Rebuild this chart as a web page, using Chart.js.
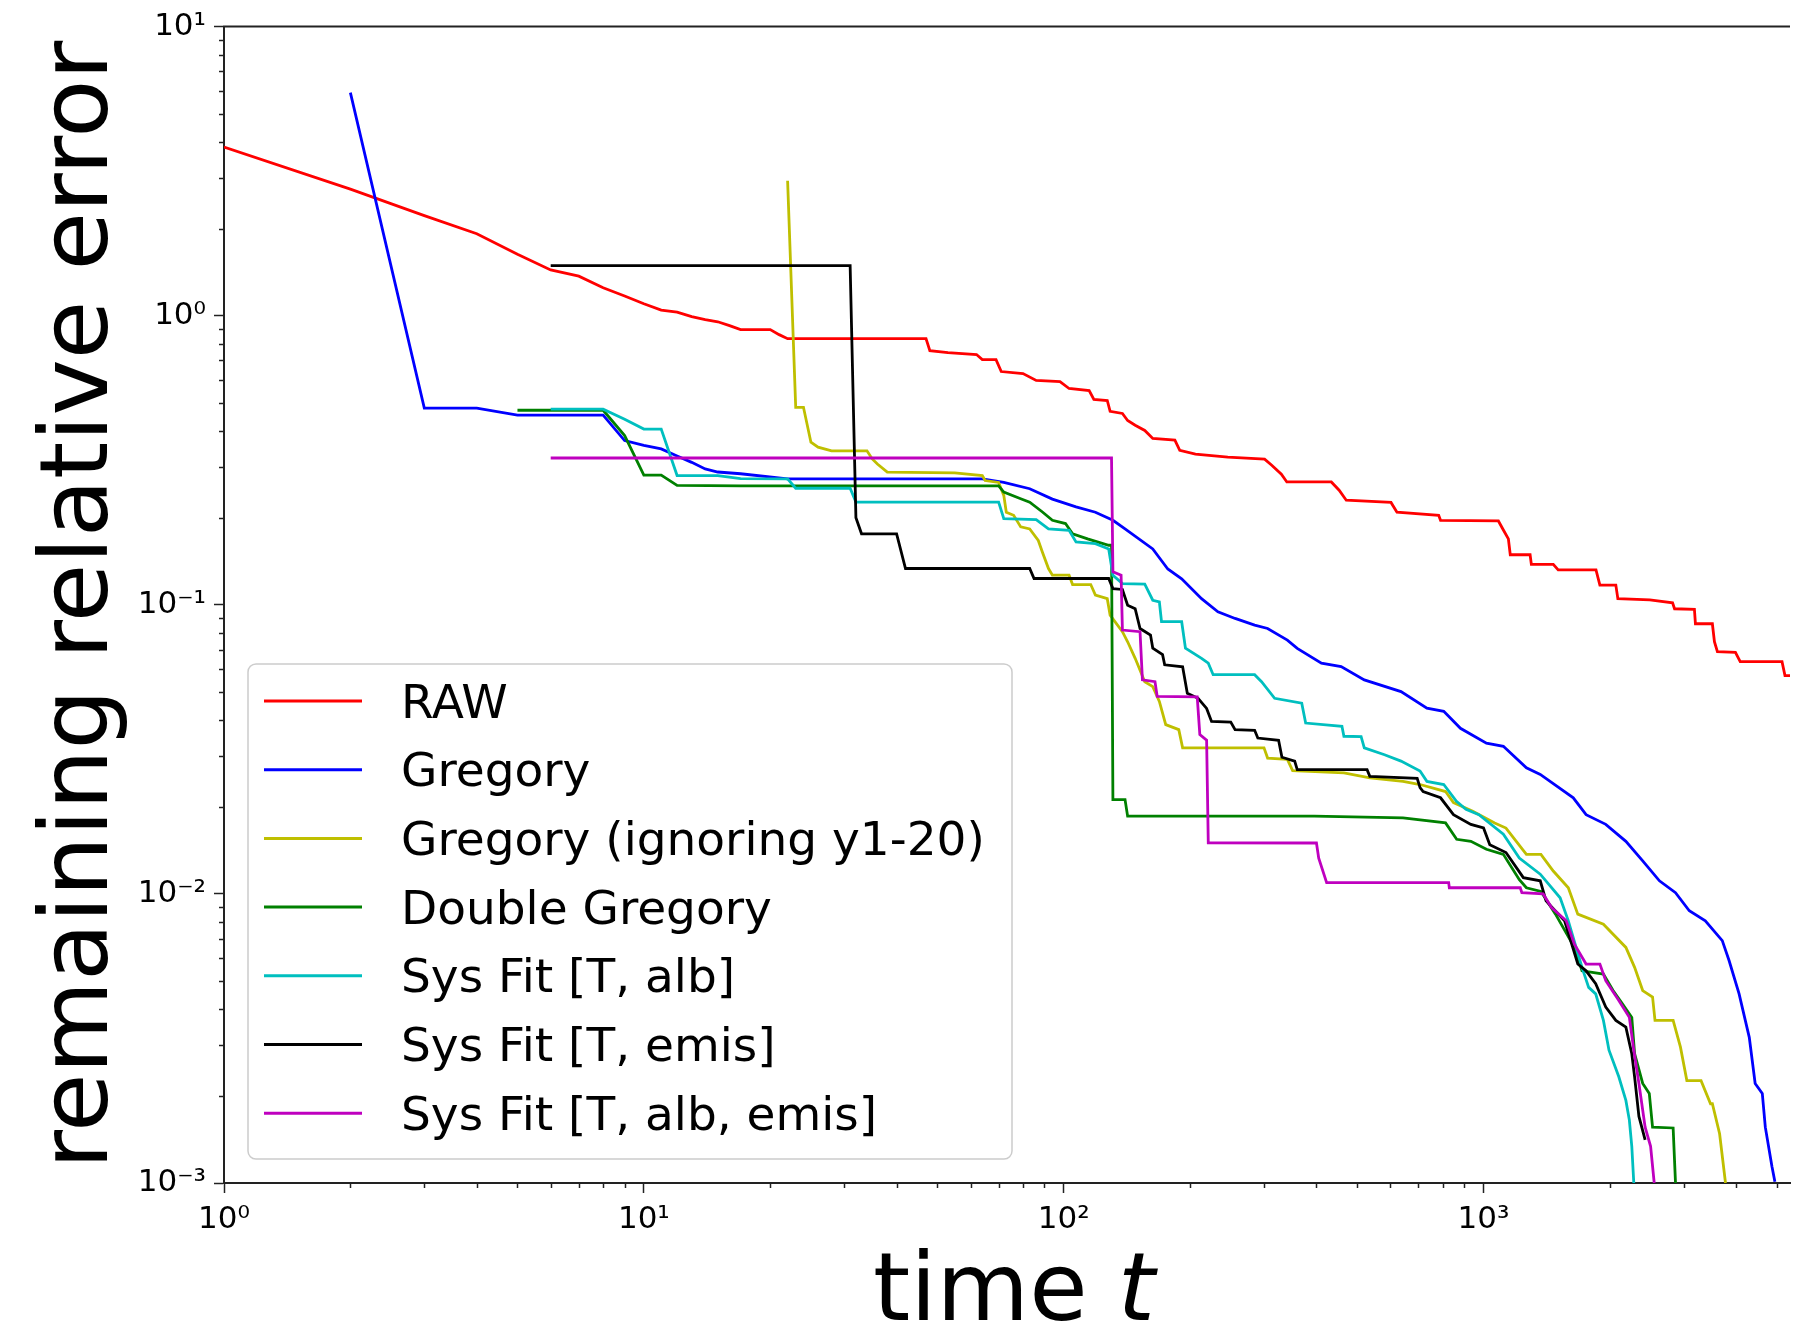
<!DOCTYPE html>
<html>
<head>
<meta charset="utf-8">
<title>remaining relative error</title>
<script src="https://cdn.jsdelivr.net/npm/chart.js@4.4.0/dist/chart.umd.min.js"></script>
<style>
  html, body { margin: 0; padding: 0; background: #fff; }
  #wrap { width: 1798px; height: 1333px; }
</style>
</head>
<body>
<div id="wrap"><canvas id="errChart" width="1798" height="1333"></canvas></div>
<script>
// values (time t, remaining relative error)
const seriesNames = ["RAW", "Gregory", "Gregory (ignoring y1-20)", "Double Gregory",
                     "Sys Fit [T, alb]", "Sys Fit [T, emis]", "Sys Fit [T, alb, emis]"];
const seriesColors = ["#ff0000", "#0000ff", "#bfbf00", "#008000", "#00bfbf", "#000000", "#bf00bf"];

const rawT = [1,2,3,4,5,6,7,8,9,10,11,12,13,14,15,16,17,20,21,22,47,48,53,62,64,69,71,80,86,98,
  103,115,118,127,129,138,142,148,156,163,184,189,206,246,301,313,330,340,434,453,
  471,602,622,782,790,1085,1115,1146,1158,1291,1300,1466,1506,1853,1893,2066,2089,2489,2820,2851,
  3179,3197,3508,3548,3606,3981,4087,5140,5224,5370];
const rawErr = [3.83,2.74,2.22,1.92,1.63,1.44,1.37,1.25,1.17,1.10,1.045,1.028,0.992,0.969,0.953,0.924,0.895,0.895,0.86,0.833,
  0.833,0.757,0.745,0.734,0.705,0.705,0.641,0.631,0.597,0.592,0.560,0.551,0.513,0.509,0.467,0.459,0.434,0.418,0.401,0.376,
  0.371,0.342,0.332,0.324,0.319,0.304,0.283,0.266,0.266,0.249,0.230,0.226,0.209,0.204,0.196,0.195,0.1815,0.169,0.149,0.149,
  0.138,0.138,0.132,0.132,0.117,0.117,0.105,0.104,0.1016,0.0969,0.0965,0.086,0.086,0.0745,0.0689,0.0685,0.0636,0.0636,0.0569,0.0569];

const gregT = [2,3,4,5,8,9,10,11,12,13,14,15,17,22,64,72,83,94,107,119,
  131,140,163,177,191,213,233,256,285,306,341,360,411,458,520,636,733,804,881,1016,
  1115,1265,1365,1636,1755,1955,2183,2394,2624,2866,3091,3375,3704,3846,4062,4295,4436,4613,4690,4864,4943];
const gregErr = [5.91,0.479,0.479,0.453,0.453,0.37,0.356,0.346,0.327,0.311,0.295,0.288,0.284,0.2726,0.2726,0.265,0.252,0.232,0.218,0.209,
  0.196,0.183,0.156,0.133,0.123,0.105,0.0946,0.0897,0.0851,0.0828,0.0755,0.0707,0.0628,0.0611,0.055,0.0501,0.0439,0.0428,0.0374,0.0332,
  0.0324,0.0273,0.0259,0.0215,0.0188,0.0174,0.0152,0.0130,0.0111,0.0101,0.00874,0.00807,0.00689,0.00587,0.00451,0.00319,0.00221,0.00204,0.00156,0.00114,0.00101];

const gregIgnT = [22,23,24,25,26,28,34,35,36,38,55,64,65,70,72,73,76,79,83,87,
  89,92,94,103,105,116,119,127,129,138,142,148,156,163,169,175,188,192,300,306,
  341,351,465,536,643,706,812,848,943,1063,1131,1265,1370,1466,1592,1677,1930,2183,2290,2394,
  2527,2561,2829,2945,3050,3297,3473,3508,3650,3770];
const gregIgnErr = [2.93,0.482,0.482,0.365,0.351,0.341,0.341,0.3195,0.307,0.2877,0.286,0.28,0.269,0.265,0.239,0.209,0.204,0.186,0.183,0.167,
  0.152,0.1335,0.1266,0.1266,0.1175,0.1175,0.108,0.105,0.0921,0.0807,0.0745,0.0653,0.0542,0.0521,0.0463,0.0385,0.037,0.032,0.032,0.0295,
  0.0292,0.0267,0.0262,0.0252,0.0245,0.0239,0.0226,0.0207,0.0193,0.0176,0.0169,0.0137,0.0137,0.0120,0.0105,0.00851,0.00785,0.00653,0.00557,0.00463,
  0.0044,0.00365,0.00365,0.00295,0.00226,0.00226,0.00188,0.00188,0.00148,0.001];

const dblT = [5,6,8,9,10,11,12,17,70,72,79,83,89,94,101,105,114,128,130,131,
  140,142,395,643,812,863,933,1016,1115,1217,1265,1370,1484,1646,1716,1930,2035,2142,2255,2290,
  2394,2482,2527,2829,2866];
const dblErr = [0.471,0.471,0.471,0.385,0.281,0.281,0.259,0.258,0.258,0.2455,0.2328,0.2265,0.2094,0.196,0.191,0.176,0.169,0.1607,0.1607,0.0212,
  0.0212,0.01857,0.01857,0.01833,0.0176,0.01545,0.0152,0.01427,0.0137,0.0112,0.0105,0.0102,0.00851,0.00653,0.00542,0.00528,0.00463,0.00417,0.00374,0.0028,
  0.00221,0.00204,0.00156,0.00155,0.001];

const albT = [6,8,9,10,11,12,15,17,22,23,31,32,70,72,86,92,103,107,119,128,
  131,138,156,163,169,171,191,195,213,221,227,285,296,318,369,377,460,465,511,520,
  581,636,706,733,804,862,908,975,1115,1217,1365,1522,1592,1716,1780,1850,1930,1990,2100,2183,
  2225,2255,2280];
const albErr = [0.475,0.475,0.4387,0.4055,0.4055,0.28,0.28,0.273,0.2726,0.253,0.253,0.2265,0.2265,0.1985,0.197,0.183,0.181,0.165,0.1627,0.156,
  0.1266,0.1184,0.118,0.1037,0.1023,0.0874,0.0874,0.0708,0.0653,0.0628,0.0573,0.0573,0.0542,0.0475,0.0457,0.039,0.038,0.0351,0.035,0.032,
  0.0303,0.0288,0.0266,0.0245,0.0239,0.0209,0.0196,0.0188,0.0161,0.0133,0.0117,0.0097,0.00807,0.00557,0.00475,0.00451,0.00365,0.00288,0.00233,0.00193,
  0.00165,0.00134,0.001];

const emisT = [6,31,32,33,40,42,83,85,128,131,138,142,148,152,161,163,172,174,192,197,
  209,219,225,250,256,285,290,325,331,355,360,528,536,695,706,718,790,848,933,1000,
  1035,1131,1244,1365,1409,1560,1677,1755,1850,1955,2066,2183,2255,2290,2345,2426];
const emisErr = [1.491,1.491,0.2,0.176,0.176,0.1335,0.1335,0.1233,0.1233,0.1138,0.113,0.0997,0.097,0.0828,0.0786,0.0708,0.0672,0.062,0.061,0.0494,
  0.0475,0.0438,0.0395,0.0393,0.037,0.0368,0.0346,0.034,0.0297,0.0288,0.0269,0.0269,0.0255,0.0251,0.0233,0.0226,0.0215,0.0188,0.0174,0.0169,
  0.0148,0.0139,0.01138,0.0111,0.00946,0.00807,0.00572,0.00542,0.00489,0.00406,0.00365,0.00346,0.0028,0.00233,0.0017,0.00141];

const albEmisT = [6,130,131,137,138,152,154,165,167,208,211,219,221,395,400,405,423,826,829,1223,
  1234,1387,1452,1574,1646,1755,1893,1955,2100,2225,2280,2345,2426,2500,2550];
const albEmisErr = [0.322,0.322,0.130,0.1266,0.0818,0.0807,0.055,0.0542,0.0482,0.048,0.0356,0.034,0.01503,0.015,0.015,0.0133,0.01094,0.01094,0.0105,0.0105,
  0.0101,0.0100,0.00897,0.00807,0.0067,0.00572,0.00572,0.00501,0.00428,0.00374,0.00288,0.00221,0.00156,0.00134,0.001];

const xMin = 1, xMax = 5370;
const yMin = 0.001, yMax = 10;

const seriesT = [rawT, gregT, gregIgnT, dblT, albT, emisT, albEmisT];
const seriesErr = [rawErr, gregErr, gregIgnErr, dblErr, albErr, emisErr, albEmisErr];

const supDigits = { "0": "\u2070", "1": "\u00b9", "2": "\u00b2", "3": "\u00b3", "-": "\u207b" };

function isPow10(v) {
  const e = Math.log10(v);
  return Math.abs(e - Math.round(e)) < 1e-6;
}
function isDecadeStep(v) {
  const p = Math.pow(10, Math.floor(Math.log10(v) + 1e-9));
  const s = v / p;
  return Math.abs(s - Math.round(s)) < 1e-6;
}
function powLabel(v) {
  if (!isPow10(v)) return "";
  const e = String(Math.round(Math.log10(v)));
  return "10" + e.split("").map(c => supDigits[c]).join("");
}

const datasets = seriesNames.map((name, i) => ({
  label: name,
  data: seriesT[i].map((t, k) => ({ x: t, y: seriesErr[i][k] })),
  borderColor: seriesColors[i],
  backgroundColor: seriesColors[i],
  borderWidth: 2.8,
  pointRadius: 0,
  tension: 0,
  fill: false,
  order: seriesNames.length - i
}));

// minor ticks, top frame, axis titles and the legend box
const extras = {
  id: "extras",
  afterDraw(chart) {
    const ctx = chart.ctx;
    const area = chart.chartArea;
    const xs = chart.scales.x, ys = chart.scales.y;
    ctx.save();

    // top frame
    ctx.strokeStyle = "#222";
    ctx.lineWidth = 2;
    ctx.beginPath();
    ctx.moveTo(area.left - 1, area.top);
    ctx.lineTo(area.right, area.top);
    ctx.stroke();

    // minor ticks
    ctx.lineWidth = 1.5;
    xs.ticks.forEach(t => {
      if (isPow10(t.value) || !isDecadeStep(t.value)) return;
      const px = Math.round(xs.getPixelForValue(t.value)) + 0.5;
      ctx.beginPath();
      ctx.moveTo(px, area.bottom);
      ctx.lineTo(px, area.bottom + 5);
      ctx.stroke();
    });
    ys.ticks.forEach(t => {
      if (isPow10(t.value) || !isDecadeStep(t.value)) return;
      const py = Math.round(ys.getPixelForValue(t.value)) + 0.5;
      ctx.beginPath();
      ctx.moveTo(area.left, py);
      ctx.lineTo(area.left - 5, py);
      ctx.stroke();
    });

    // axis titles
    ctx.fillStyle = "#000";
    ctx.font = "95px 'DejaVu Sans'";
    const w1 = ctx.measureText("time ").width;
    ctx.font = "italic 95px 'DejaVu Sans'";
    const w2 = ctx.measureText("t").width;
    const cx = (area.left + area.right) / 2 + 7;
    const x0 = cx - (w1 + w2) / 2;
    ctx.textAlign = "left";
    ctx.textBaseline = "alphabetic";
    ctx.font = "95px 'DejaVu Sans'";
    ctx.fillText("time ", x0, 1320);
    ctx.font = "italic 95px 'DejaVu Sans'";
    ctx.fillText("t", x0 + w1, 1320);

    ctx.save();
    ctx.translate(107, (area.top + area.bottom) / 2);
    ctx.rotate(-Math.PI / 2);
    ctx.textAlign = "center";
    ctx.font = "95px 'DejaVu Sans'";
    ctx.fillText("remaining relative error", 0, 0);
    ctx.restore();

    // legend
    const bx = area.left + 24, by = 664, bw = 764, bh = 495;
    ctx.beginPath();
    ctx.roundRect(bx, by, bw, bh, 8);
    ctx.fillStyle = "rgba(255,255,255,0.8)";
    ctx.fill();
    ctx.strokeStyle = "#cccccc";
    ctx.lineWidth = 1.5;
    ctx.stroke();
    ctx.font = "47px 'DejaVu Sans'";
    ctx.textAlign = "left";
    ctx.textBaseline = "alphabetic";
    chart.data.datasets.forEach((ds, i) => {
      const ry = by + 37 + i * 68.7;
      ctx.strokeStyle = ds.borderColor;
      ctx.lineWidth = 3;
      ctx.beginPath();
      ctx.moveTo(bx + 16, ry);
      ctx.lineTo(bx + 114, ry);
      ctx.stroke();
      ctx.fillStyle = "#000";
      ctx.fillText(ds.label, bx + 153, ry + 16.5);
    });
    ctx.restore();
  }
};

const tickFont = { family: "'DejaVu Sans'", size: 31 };
const tickColorFn = c => (c.tick && isPow10(c.tick.value)) ? "#222" : "rgba(0,0,0,0)";

const errChart = new Chart(document.getElementById("errChart").getContext("2d"), {
  type: "line",
  data: { datasets: datasets },
  plugins: [extras],
  options: {
    responsive: false,
    devicePixelRatio: 1,
    animation: false,
    layout: { padding: { top: 23, right: 0, left: 0, bottom: 0 } },
    plugins: {
      legend: { display: false },
      title: { display: false },
      tooltip: { enabled: false }
    },
    scales: {
      x: {
        type: "logarithmic",
        position: "bottom",
        min: xMin,
        max: xMax,
        afterFit: s => { s.height = 150; },
        border: { display: true, color: "#222", width: 2 },
        grid: { display: true, drawOnChartArea: false, drawTicks: true, tickLength: 10, tickWidth: 1.5, tickColor: tickColorFn },
        ticks: { autoSkip: false, maxRotation: 0, minRotation: 0, padding: 8, color: "#000", font: tickFont, callback: v => powLabel(v) }
      },
      y: {
        type: "logarithmic",
        position: "left",
        min: yMin,
        max: yMax,
        afterFit: s => { s.width = 224; },
        border: { display: true, color: "#222", width: 2 },
        grid: { display: true, drawOnChartArea: false, drawTicks: true, tickLength: 10, tickWidth: 1.5, tickColor: tickColorFn },
        ticks: { autoSkip: false, padding: 8, color: "#000", font: tickFont, callback: v => powLabel(v) }
      }
    }
  }
});
</script>
</body>
</html>
